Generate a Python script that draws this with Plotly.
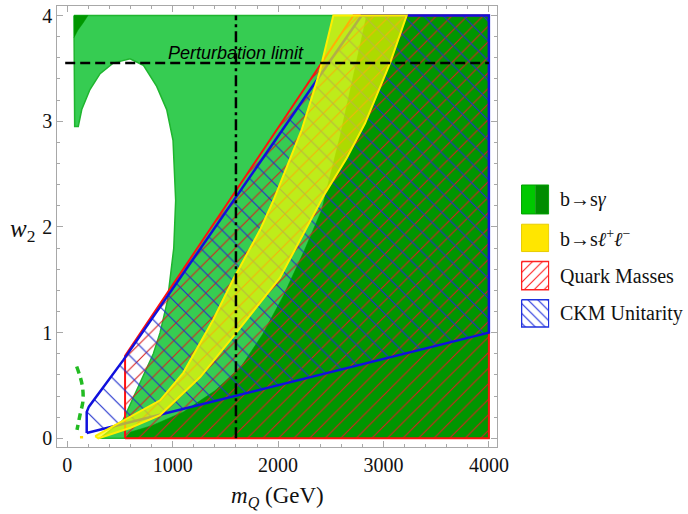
import plotly.graph_objects as go

# ---------------- data ----------------
# light-green b->s gamma allowed region (outer boundary incl. the white "hole")
m_gl = [63, 63, 70, 104, 137, 215, 311, 434, 595, 721, 848, 943, 1003, 1028, 1010, 950, 880, 816, 690, 528, 310, 4000, 4000, 63]
w_gl = [4.0, 3.0, 2.95, 2.95, 3.11, 3.30, 3.45, 3.55, 3.59, 3.53, 3.33, 3.11, 2.82, 2.25, 1.80, 1.30, 1.00, 0.80, 0.52, 0.17, 0.0, 0.0, 4.0, 4.0]
# dark-green b->s gamma region (right part)
m_gd = [548, 600, 800, 1100, 1400, 1650, 1850, 2050, 2250, 2413, 2586, 2840, 4000, 4000]
w_gd = [0.0, 0.06, 0.12, 0.25, 0.45, 0.68, 0.98, 1.35, 1.78, 2.16, 2.85, 4.0, 4.0, 0.0]
# small dark-green wedge, top left
m_gt = [63, 196, 150, 100, 63]
w_gt = [4.0, 4.0, 3.93, 3.86, 3.79]
# dashed green sliver at small m_Q
m_gs = [89, 140, 149, 120, 92]
w_gs = [0.68, 0.51, 0.36, 0.22, 0.08]
# b->s l+ l- band: left (upper) and right (lower) edges
m_yl = [264, 531, 880, 1100, 1383, 1572, 1828, 1955, 2224, 2390, 2524]
w_yl = [0.02, 0.17, 0.36, 0.62, 1.12, 1.50, 1.97, 2.25, 2.92, 3.45, 4.0]
m_yr = [294, 600, 880, 1261, 1572, 2018, 2250, 2435, 2650, 2825, 3062, 3220]
w_yr = [0.0, 0.10, 0.22, 0.58, 0.96, 1.52, 1.95, 2.30, 2.65, 2.98, 3.55, 4.0]
m_ys = [120, 150]
w_ys = [0.01, 0.01]
# quark-mass region
m_q = [548, 548, 2715, 4000, 4000, 548]
w_q = [0.0, 0.78, 4.0, 4.0, 0.0, 0.0]
# CKM-unitarity region
m_c = [184, 184, 205, 531, 2237, 2792, 4000, 4000, 184]
w_c = [0.05, 0.25, 0.30, 0.74, 3.20, 4.0, 4.0, 1.0, 0.05]
# reference lines
w_pert = 3.55
m_pert = [-20, 4000]
m_vert = 1600
w_vert = [0.0, 4.0]

x_ticks = [0, 1000, 2000, 3000, 4000]
y_ticks = [0, 1, 2, 3, 4]
legend_labels = ["b→s<i>γ</i>", "b→s<i>ℓ</i><sup>+</sup><i>ℓ</i><sup>−</sup>", "Quark Masses", "CKM Unitarity"]
legend_rows = [(0, 29), (39.3, 66.7), (76.7, 105), (115, 142.3)]

# ---------------- figure ----------------
W, H = 688, 514
LG = "#36cc52"
DG = "#009600"
fig = go.Figure()

def poly(m, w, **kw):
    fig.add_trace(go.Scatter(x=m, y=w, mode="lines", fill="toself", hoverinfo="skip", **kw))

poly(m_gl, w_gl, fillcolor=LG, line=dict(color="#1fb52f", width=1.5))
poly(m_gd, w_gd, fillcolor=DG, line=dict(color=DG, width=0.5))
poly(m_gt, w_gt, fillcolor=DG, line=dict(color=DG, width=0.5))

poly(m_q, w_q, fillcolor="rgba(0,0,0,0)", line=dict(color="#ff1010", width=2),
     fillpattern=dict(shape="/", fgcolor="#d82020", bgcolor="rgba(0,0,0,0)", size=11, solidity=0.1, fillmode="replace"))
poly(m_c, w_c, fillcolor="rgba(0,0,0,0)", line=dict(color="#1010dd", width=2.5),
     fillpattern=dict(shape="\\", fgcolor="#2030cc", bgcolor="rgba(0,0,0,0)", size=14, solidity=0.08, fillmode="replace"))

m_band = m_yl + m_yr[::-1] + [m_yl[0]]
w_band = w_yl + w_yr[::-1] + [w_yl[0]]
poly(m_band, w_band, fillcolor="rgba(255,250,0,0.68)", line=dict(color="#ffee00", width=2))

fig.add_trace(go.Scatter(x=m_ys, y=w_ys, mode="lines", line=dict(color="#ffdd00", width=2.5), hoverinfo="skip"))
fig.add_trace(go.Scatter(x=m_gs, y=w_gs, mode="lines", line=dict(color="#22bb22", width=3.5, dash="7px,5px", shape="spline"), hoverinfo="skip"))

fig.add_trace(go.Scatter(x=m_pert, y=[w_pert, w_pert], mode="lines",
                         line=dict(color="black", width=2.5, dash="10px,5px"), hoverinfo="skip"))
fig.add_trace(go.Scatter(x=[m_vert, m_vert], y=w_vert, mode="lines",
                         line=dict(color="black", width=2.5, dash="11px,4px,3px,4px"), hoverinfo="skip"))

# ---------------- legend (drawn in its own small axes) ----------------
for i, (y0, y1) in enumerate(legend_rows):
    xs = [0, 1, 1, 0, 0]
    ys = [y0, y0, y1, y1, y0]
    if i == 0:
        fig.add_trace(go.Scatter(x=[0, 0.5, 0.5, 0, 0], y=ys, mode="lines", fill="toself", fillcolor="#00c800",
                                 line=dict(width=0), xaxis="x2", yaxis="y2", hoverinfo="skip"))
        fig.add_trace(go.Scatter(x=[0.5, 1, 1, 0.5, 0.5], y=ys, mode="lines", fill="toself", fillcolor="#008c00",
                                 line=dict(width=0), xaxis="x2", yaxis="y2", hoverinfo="skip"))
        fig.add_trace(go.Scatter(x=xs, y=ys, mode="lines", line=dict(color="#00a000", width=1),
                                 xaxis="x2", yaxis="y2", hoverinfo="skip"))
    elif i == 1:
        fig.add_trace(go.Scatter(x=xs, y=ys, mode="lines", fill="toself", fillcolor="#ffe600",
                                 line=dict(color="#e8cc00", width=1), xaxis="x2", yaxis="y2", hoverinfo="skip"))
    elif i == 2:
        fig.add_trace(go.Scatter(x=xs, y=ys, mode="lines", fill="toself", fillcolor="rgba(0,0,0,0)",
                                 fillpattern=dict(shape="/", fgcolor="#ff2020", bgcolor="white", size=7, solidity=0.16, fillmode="replace"),
                                 line=dict(color="#ff2020", width=1.5), xaxis="x2", yaxis="y2", hoverinfo="skip"))
    else:
        fig.add_trace(go.Scatter(x=xs, y=ys, mode="lines", fill="toself", fillcolor="rgba(0,0,0,0)",
                                 fillpattern=dict(shape="\\", fgcolor="#2030dd", bgcolor="white", size=7, solidity=0.16, fillmode="replace"),
                                 line=dict(color="#2030dd", width=1.5), xaxis="x2", yaxis="y2", hoverinfo="skip"))

serif = "Liberation Serif, Times New Roman, serif"
ann = []
for lab, (y0, y1) in zip(legend_labels, legend_rows):
    yc = 185 + (y0 + y1) / 2
    ann.append(dict(text=lab, x=558 / W, y=1 - yc / H, xref="paper", yref="paper", xanchor="left", yanchor="middle",
                    showarrow=False, font=dict(family=serif, size=20, color="#111")))
ann.append(dict(text="<i>Perturbation limit</i>", x=1596, y=3.645, xref="x", yref="y", showarrow=False,
                font=dict(family="Liberation Sans, Arial, sans-serif", size=18, color="black")))
ann.append(dict(text="<i>m</i><sub><i>Q</i></sub> (GeV)", x=277 / W, y=1 - 497 / H, xref="paper", yref="paper",
                showarrow=False, xanchor="center", yanchor="middle", font=dict(family=serif, size=23, color="#111")))
ann.append(dict(text="<i>w</i><sub>2</sub>", x=22 / W, y=1 - 231 / H, xref="paper", yref="paper",
                showarrow=False, xanchor="center", yanchor="middle", font=dict(family=serif, size=25, color="#111")))

axcommon = dict(showgrid=False, zeroline=False, showline=True, linecolor="#a8a8a8", linewidth=1,
                ticks="inside", ticklen=6, tickcolor="#a8a8a8", tickwidth=1, mirror="allticks",
                tickfont=dict(family=serif, size=20, color="#111"), automargin=False)
fig.update_layout(
    width=W, height=H, margin=dict(l=0, r=0, t=0, b=0, autoexpand=False),
    paper_bgcolor="white", plot_bgcolor="white", showlegend=False,
    xaxis=dict(domain=[57.3 / W, 497 / W], range=[-95, 4077], tickvals=x_ticks, autorange=False,
               minor=dict(dtick=200, tick0=0, ticks="inside", ticklen=3, tickcolor="#a8a8a8"), **axcommon),
    yaxis=dict(domain=[1 - 446.7 / H, 1 - 6 / H], range=[-0.079, 4.09], tickvals=y_ticks, autorange=False,
               minor=dict(dtick=0.2, tick0=0, ticks="inside", ticklen=3, tickcolor="#a8a8a8"), **axcommon),
    xaxis2=dict(domain=[521 / W, 549.3 / W], range=[-0.02, 1.02], visible=False, anchor="y2"),
    yaxis2=dict(domain=[1 - 328 / H, 1 - 184 / H], range=[143.3, -1], visible=False, anchor="x2"),
    annotations=ann,
)
fig.write_html("out.html")
